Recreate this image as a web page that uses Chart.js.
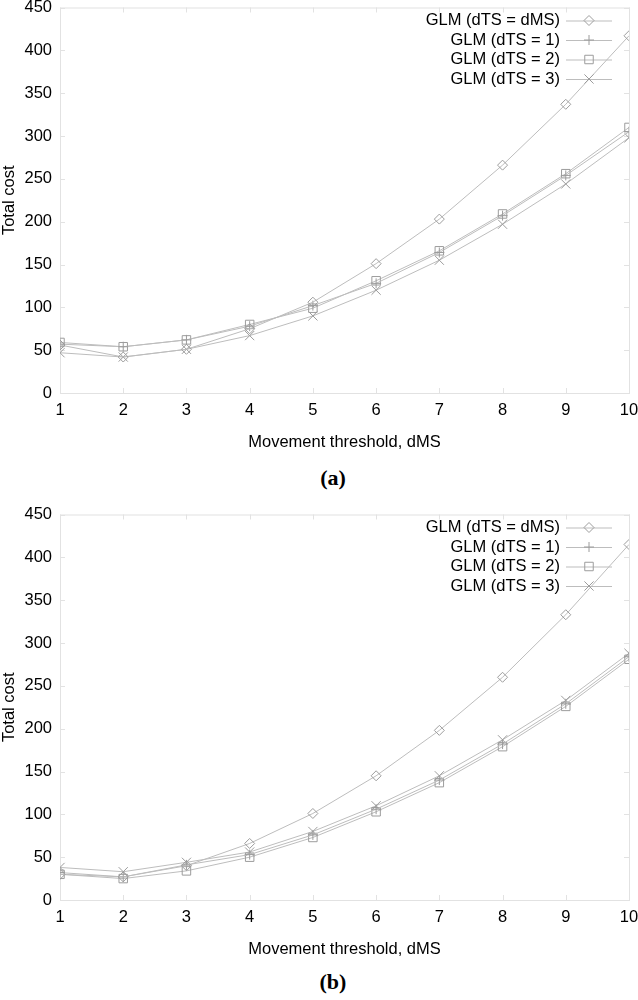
<!DOCTYPE html>
<html>
<head>
<meta charset="utf-8">
<script src="https://cdn.jsdelivr.net/npm/chart.js@4.4.1/dist/chart.umd.min.js"></script>
<style>
  body { margin: 0; background: #fff; }
  .panel { position: absolute; left: 0; width: 638px; }
  .caption { position: absolute; left: 0; width: 666px; text-align: center;
             font: bold 22px "Liberation Serif", "Times New Roman", serif; line-height: 26px; color: #000; }
</style>
</head>
<body>
<div class="panel" style="top:0px"><canvas id="chartA" width="638" height="460"></canvas></div>
<div class="caption" style="top:465px">(a)</div>
<div class="panel" style="top:507px"><canvas id="chartB" width="638" height="460"></canvas></div>
<div class="caption" style="top:969px">(b)</div>

<script>
// valores
const umbralesDMS = [1, 2, 3, 4, 5, 6, 7, 8, 9, 10];
const etiquetasSeries = ['GLM (dTS = dMS)', 'GLM (dTS = 1)', 'GLM (dTS = 2)', 'GLM (dTS = 3)'];

// panel (a)
const costeA_dms = [56, 42, 51, 75, 106, 151, 203, 266, 337, 417];
const costeA_ts1 = [57, 54, 62, 78, 102, 128, 164, 207, 254, 305];
const costeA_ts2 = [59, 54, 62, 80, 99, 131, 166, 209, 256, 310];
const costeA_ts3 = [47, 42, 51, 67, 90, 120, 155, 197, 244, 298];

// panel (b)
const costeB_dms = [30, 27, 40, 66, 101, 145, 198, 260, 333, 415];
const costeB_ts1 = [32, 27, 41, 53, 76, 106, 140, 182, 229, 284];
const costeB_ts2 = [30, 25, 34, 50, 73, 103, 137, 179, 226, 281];
const costeB_ts3 = [38, 33, 44, 56, 80, 110, 145, 187, 233, 288];

const ticksY = [0, 50, 100, 150, 200, 250, 300, 350, 400, 450];

const FUENTE = '"Liberation Sans", Arial, sans-serif';
const TAM = 16.5;
const GRIS_LINEA = '#bdbdbd';
const GRIS_MARCA = '#9c9c9c';
const GRIS_MARCO = '#e2e2e2';
const estilos = ['rectRot', 'cross', 'rect', 'crossRot'];
const radios = [5, 5, 6, 6.5];

// marco con marcas hacia dentro en los cuatro lados (estilo gnuplot)
const pluginMarco = {
    id: 'marco',
    beforeDatasetsDraw(chart) {
        const { ctx, chartArea: a, scales } = chart;
        ctx.save();
        ctx.strokeStyle = GRIS_MARCO;
        ctx.lineWidth = 1;
        ctx.strokeRect(a.left + 0.5, a.top + 0.5, a.right - a.left, a.bottom - a.top);
        ctx.beginPath();
        scales.x.ticks.forEach(t => {
            const px = Math.round(scales.x.getPixelForValue(t.value)) + 0.5;
            ctx.moveTo(px, a.bottom); ctx.lineTo(px, a.bottom - 5);
            ctx.moveTo(px, a.top); ctx.lineTo(px, a.top + 5);
        });
        scales.y.ticks.forEach(t => {
            const py = Math.round(scales.y.getPixelForValue(t.value)) + 0.5;
            ctx.moveTo(a.left, py); ctx.lineTo(a.left + 5, py);
            ctx.moveTo(a.right, py); ctx.lineTo(a.right - 5, py);
        });
        ctx.stroke();
        ctx.restore();
    }
};

// leyenda: texto a la izquierda, muestra de linea con marca a la derecha
const pluginLeyenda = {
    id: 'leyendaGnuplot',
    afterDatasetsDraw(chart) {
        const { ctx, chartArea: a } = chart;
        ctx.save();
        chart.data.datasets.forEach((ds, i) => {
            const y = a.top + 13 + i * 19.5;
            const x0 = a.right - 63, x1 = a.right - 17;
            ctx.fillStyle = '#000';
            ctx.font = TAM + 'px ' + FUENTE;
            ctx.textAlign = 'right';
            ctx.textBaseline = 'middle';
            ctx.fillText(ds.label, a.right - 69, y);
            ctx.strokeStyle = GRIS_LINEA;
            ctx.lineWidth = 1;
            ctx.beginPath();
            ctx.moveTo(x0, y + 0.5); ctx.lineTo(x1, y + 0.5);
            ctx.stroke();
            ctx.strokeStyle = GRIS_MARCA;
            ctx.fillStyle = 'rgba(0,0,0,0)';
            Chart.helpers.drawPoint(ctx, {
                pointStyle: ds.pointStyle, radius: ds.pointRadius, borderWidth: 1, rotation: 0
            }, (x0 + x1) / 2, y);
        });
        ctx.restore();
    }
};

function armarSeries(valores) {
    return valores.map((serie, i) => ({
        label: etiquetasSeries[i],
        data: umbralesDMS.map((d, k) => ({ x: d, y: serie[k] })),
        borderColor: GRIS_LINEA,
        borderWidth: 1,
        pointStyle: estilos[i],
        pointRadius: radios[i],
        pointBorderColor: GRIS_MARCA,
        pointBackgroundColor: 'rgba(0,0,0,0)',
        pointBorderWidth: 1,
        fill: false,
        tension: 0
    }));
}

function crearGrafico(idCanvas, valores) {
    const ctx = document.getElementById(idCanvas).getContext('2d');
    return new Chart(ctx, {
        type: 'line',
        data: { datasets: armarSeries(valores) },
        options: {
            responsive: false,
            animation: false,
            layout: { padding: { top: 6, right: 9, left: 0, bottom: 0 } },
            scales: {
                x: {
                    type: 'linear',
                    min: 1, max: 10,
                    grid: { display: false, drawTicks: false },
                    border: { display: false },
                    ticks: { stepSize: 1, padding: 8, color: '#000', font: { family: FUENTE, size: TAM } },
                    title: { display: true, text: 'Movement threshold, dMS', color: '#000',
                             font: { family: FUENTE, size: TAM }, padding: { top: 0, bottom: 8 } },
                    afterFit(scale) { scale.height = 67; scale.paddingLeft = 0; scale.paddingRight = 0; }
                },
                y: {
                    type: 'linear',
                    min: 0, max: 450,
                    grid: { display: false, drawTicks: false },
                    border: { display: false },
                    afterBuildTicks(scale) { scale.ticks = ticksY.map(v => ({ value: v })); },
                    ticks: { padding: 8, color: '#000', font: { family: FUENTE, size: TAM } },
                    title: { display: true, text: 'Total cost', color: '#000',
                             font: { family: FUENTE, size: TAM }, padding: { top: 0, bottom: 0 } },
                    afterFit(scale) { scale.width = 60; scale.paddingTop = 0; scale.paddingBottom = 0; }
                }
            },
            plugins: {
                legend: { display: false },
                tooltip: { enabled: false }
            }
        },
        plugins: [pluginMarco, pluginLeyenda]
    });
}

crearGrafico('chartA', [costeA_dms, costeA_ts1, costeA_ts2, costeA_ts3]);
crearGrafico('chartB', [costeB_dms, costeB_ts1, costeB_ts2, costeB_ts3]);
</script>
</body>
</html>
